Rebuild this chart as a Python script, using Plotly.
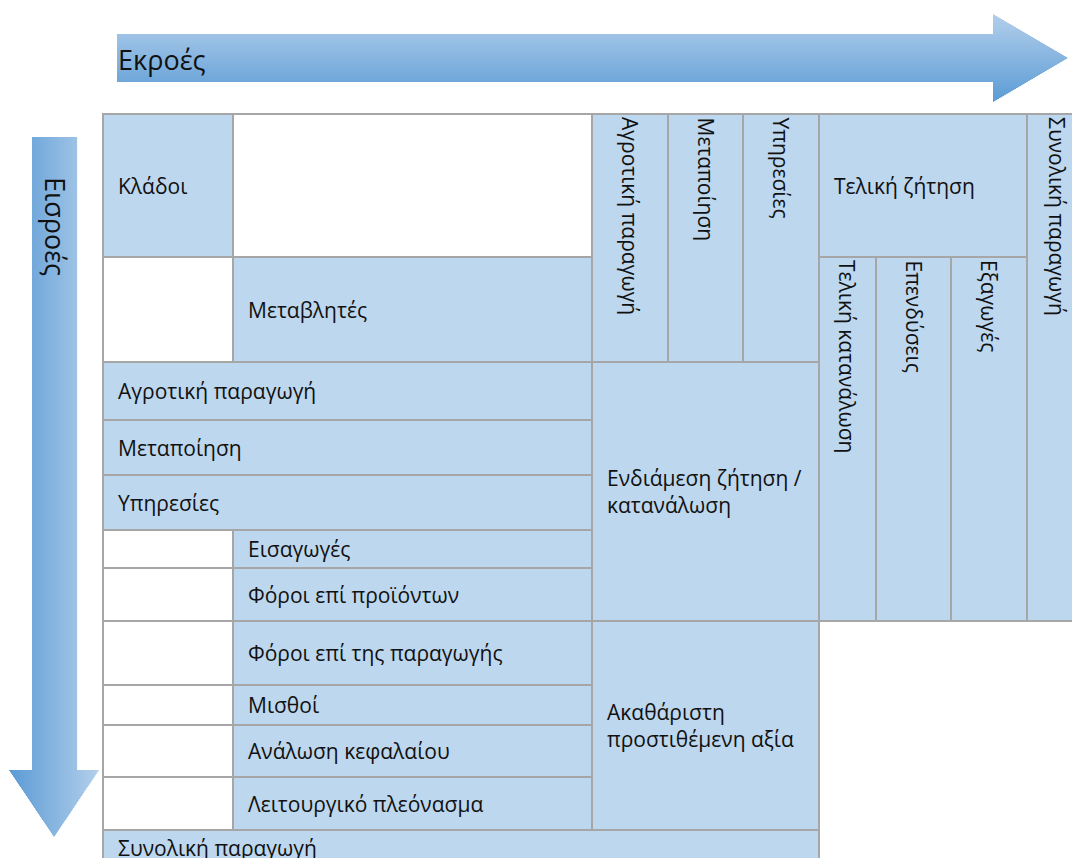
import plotly.graph_objects as go

# ---------------- data (labels of the input-output table) ----------------
header_corner = "Κλάδοι"
header_variables = "Μεταβλητές"
sector_labels = ["Αγροτική παραγωγή", "Μεταποίηση", "Υπηρεσίες"]
final_demand_title = "Τελική ζήτηση"
final_demand_labels = ["Τελική κατανάλωση", "Επενδύσεις", "Εξαγωγές"]
total_output_label = "Συνολική παραγωγή"
primary_input_labels = ["Εισαγωγές", "Φόροι επί προϊόντων", "Φόροι επί της παραγωγής",
                        "Μισθοί", "Ανάλωση κεφαλαίου", "Λειτουργικό πλεόνασμα"]
intermediate_label = "Ενδιάμεση ζήτηση /<br>κατανάλωση"
value_added_label = "Ακαθάριστη<br>προστιθέμενη αξία"
outputs_label = "Εκροές"
inputs_label = "Εισροές"

# ---------------- layout grid ----------------
W, H = 1080, 858
PAGE_OFF = 8  # default page margin around the plot
col_edges = [103, 233, 592, 668, 743, 819, 876, 951, 1027, 1088]
row_edges = [114, 257, 362, 420, 475, 530, 568, 621, 685, 725, 777, 830, 866]

FILL = "#bdd7ee"
LINE = "#a6a6a6"
TXT = "#111111"
FONT = "Open Sans"
FS = 21

shapes = []
annotations = []


def cell(c0, c1, r0, r1, filled=True):
    shapes.append(dict(type="rect", xref="x", yref="y",
                       x0=col_edges[c0], x1=col_edges[c1],
                       y0=row_edges[r0], y1=row_edges[r1],
                       fillcolor=FILL if filled else "white",
                       line=dict(color=LINE, width=2), layer="below"))


def text_left(label, c0, r0, r1, size=FS):
    annotations.append(dict(x=col_edges[c0] + 13, y=(row_edges[r0] + row_edges[r1]) / 2,
                            xref="x", yref="y", text=label, showarrow=False,
                            xanchor="left", yanchor="middle", align="left",
                            font=dict(family=FONT, size=size, color=TXT)))


def text_vert(label, c0, c1, r0, size=FS):
    annotations.append(dict(x=(col_edges[c0] + col_edges[c1]) / 2, y=row_edges[r0] + 1,
                            xref="x", yref="y", text=label, showarrow=False,
                            textangle=90, xanchor="center", yanchor="top",
                            font=dict(family=FONT, size=size, color=TXT)))


# ---------------- gradient arrows (drawn as thin strips) ----------------
def lerp_color(c1, c2, t):
    a = [int(c1[i:i + 2], 16) for i in (1, 3, 5)]
    b = [int(c2[i:i + 2], 16) for i in (1, 3, 5)]
    return "rgb(%d,%d,%d)" % tuple(round(a[k] + (b[k] - a[k]) * t) for k in range(3))


LIGHT, DARK = "#b3cfeb", "#5b9bd5"

# horizontal arrow (Εκροές)
hx0, hbody_y0, hbody_y1 = 117, 34, 82
hhead_x, hhead_y0, hhead_y1, htip_x = 993, 14, 102, 1068
hmid = (hhead_y0 + hhead_y1) / 2
half = (hhead_y1 - hhead_y0) / 2
for y in range(hhead_y0, hhead_y1):
    yc = y + 0.5
    t = (yc - hhead_y0) / (hhead_y1 - hhead_y0)
    xr = hhead_x + (htip_x - hhead_x) * (1 - abs(yc - hmid) / half)
    xl = hx0 if hbody_y0 <= yc <= hbody_y1 else hhead_x
    shapes.append(dict(type="rect", xref="x", yref="y", x0=xl, x1=xr, y0=y, y1=y + 1.1,
                       fillcolor=lerp_color(LIGHT, DARK, t), line=dict(width=0), layer="above"))

# vertical arrow (Εισροές)
vy0, vbody_x0, vbody_x1 = 137, 32, 77
vhead_y, vhead_x0, vhead_x1, vtip_y = 770, 9, 99, 837
vmid = (vhead_x0 + vhead_x1) / 2
vhalf = (vhead_x1 - vhead_x0) / 2
for x in range(vhead_x0, vhead_x1):
    xc = x + 0.5
    t = (xc - vhead_x0) / (vhead_x1 - vhead_x0)
    yb = vhead_y + (vtip_y - vhead_y) * (1 - abs(xc - vmid) / vhalf)
    yt = vy0 if vbody_x0 <= xc <= vbody_x1 else vhead_y
    shapes.append(dict(type="rect", xref="x", yref="y", x0=x, x1=x + 1.1, y0=yt, y1=yb,
                       fillcolor=lerp_color(DARK, LIGHT, t), line=dict(width=0), layer="above"))

annotations.append(dict(x=hx0 - 1, y=(hbody_y0 + hbody_y1) / 2 + 1, xref="x", yref="y",
                        text=outputs_label, showarrow=False, xanchor="left", yanchor="middle",
                        font=dict(family=FONT, size=27, color=TXT)))
annotations.append(dict(x=(vbody_x0 + vbody_x1) / 2 + 1, y=175, xref="x", yref="y",
                        text=inputs_label, showarrow=False, textangle=90,
                        xanchor="center", yanchor="top",
                        font=dict(family=FONT, size=27, color=TXT)))

# ---------------- table cells ----------------
cell(0, 1, 0, 1); text_left(header_corner, 0, 0, 1)
cell(1, 2, 0, 1, filled=False)
cell(0, 1, 1, 2, filled=False)
cell(1, 2, 1, 2); text_left(header_variables, 1, 1, 2)

for i, lab in enumerate(sector_labels):
    cell(2 + i, 3 + i, 0, 2); text_vert(lab, 2 + i, 3 + i, 0)
    cell(0, 2, 2 + i, 3 + i); text_left(lab, 0, 2 + i, 3 + i)

cell(5, 8, 0, 1); text_left(final_demand_title, 5, 0, 1)
for i, lab in enumerate(final_demand_labels):
    cell(5 + i, 6 + i, 1, 7); text_vert(lab, 5 + i, 6 + i, 1)
cell(8, 9, 0, 7); text_vert(total_output_label, 8, 9, 0)

for i, lab in enumerate(primary_input_labels):
    cell(0, 1, 5 + i, 6 + i, filled=False)
    cell(1, 2, 5 + i, 6 + i); text_left(lab, 1, 5 + i, 6 + i)

cell(2, 5, 2, 7); text_left(intermediate_label, 2, 2, 7)
cell(2, 5, 7, 11); text_left(value_added_label, 2, 7, 11)
cell(0, 5, 11, 12); text_left(total_output_label, 0, 11, 12)

fig = go.Figure()
fig.add_trace(go.Scatter(x=[PAGE_OFF, PAGE_OFF + W], y=[PAGE_OFF, PAGE_OFF + H], mode="markers",
                         marker=dict(opacity=0), hoverinfo="skip", showlegend=False))
fig.update_layout(width=W, height=H, margin=dict(l=0, r=0, t=0, b=0),
                  paper_bgcolor="white", plot_bgcolor="white",
                  xaxis=dict(range=[PAGE_OFF, PAGE_OFF + W], visible=False, fixedrange=True),
                  yaxis=dict(range=[PAGE_OFF + H, PAGE_OFF], visible=False, fixedrange=True),
                  shapes=shapes, annotations=annotations, showlegend=False)
fig.write_html("out.html")
